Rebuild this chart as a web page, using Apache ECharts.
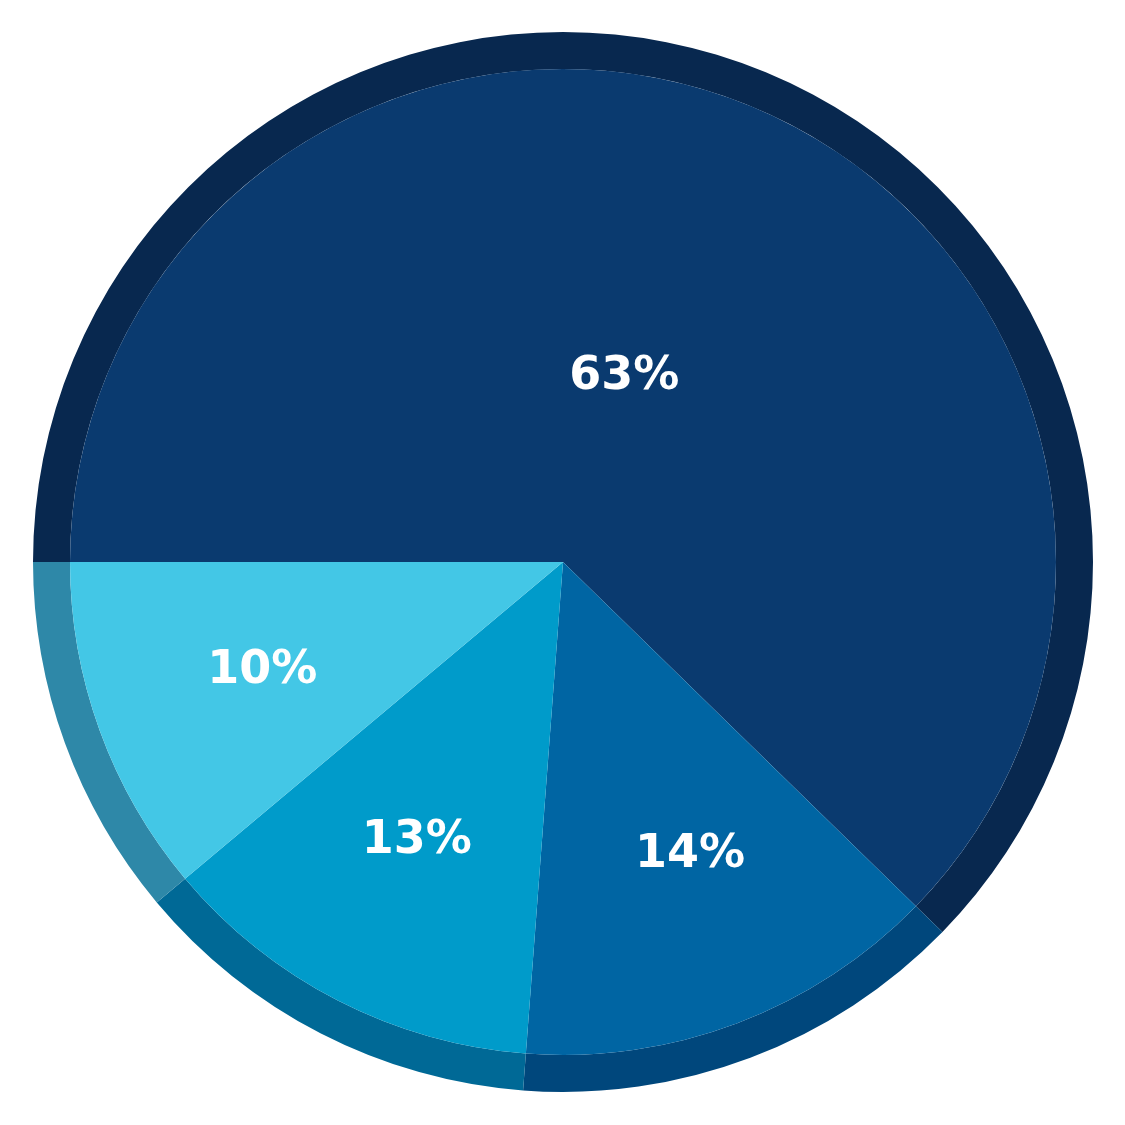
<!DOCTYPE html>
<html>
<head>
<meta charset="utf-8">
<script src="https://cdn.jsdelivr.net/npm/echarts@6/dist/echarts.min.js"></script>
<style>
html,body{margin:0;padding:0;background:#fff;}
#chart{width:1125px;height:1125px;}
</style>
</head>
<body>
<div id="chart"></div>
<script>
const categories = ['Slice A', 'Slice B', 'Slice C', 'Slice D'];
const shares = [62.3, 13.9, 12.7, 11.1];
const labels = ['63%', '14%', '13%', '10%'];
const innerColors = ['#0a3a6f', '#0065a3', '#009bca', '#43c7e6'];
const ringColors = ['#08284f', '#00477c', '#006996', '#2e88a8'];
const labelNudges = [[-14, 0], [14, -6], [0, -6], [0, 0]];

const chart = echarts.init(document.getElementById('chart'), null, {renderer: 'canvas'});

function sliceData(colors, withNudge) {
  return categories.map((name, i) => {
    const d = {
      name: name,
      value: shares[i],
      itemStyle: colors ? {color: colors[i]} : {color: 'rgba(0,0,0,0)'}
    };
    if (withNudge) d.label = {offset: labelNudges[i]};
    return d;
  });
}

const labelStyle = {
  show: true,
  position: 'inside',
  color: '#ffffff',
  fontFamily: 'DejaVu Sans',
  fontWeight: 'bold',
  fontSize: 46,
  formatter: p => labels[p.dataIndex]
};

const common = {
  type: 'pie',
  center: [563, 562],
  startAngle: 180,
  clockwise: true,
  avoidLabelOverlap: false,
  labelLine: {show: false},
  emphasis: {disabled: true},
  silent: true,
  animation: false
};

chart.setOption({
  animation: false,
  series: [
    Object.assign({}, common, {
      radius: [493, 530],
      label: {show: false},
      itemStyle: {borderWidth: 0},
      data: sliceData(ringColors, false)
    }),
    Object.assign({}, common, {
      radius: [0, 493],
      label: {show: false},
      itemStyle: {borderWidth: 0},
      data: sliceData(innerColors, false)
    }),
    // label carriers (transparent), big slice label nearer the centre
    Object.assign({}, common, {
      radius: [0, 394],
      label: Object.assign({}, labelStyle, {
        formatter: p => p.dataIndex === 0 ? labels[0] : ''
      }),
      data: sliceData(null, true)
    }),
    Object.assign({}, common, {
      radius: [140, 494],
      label: Object.assign({}, labelStyle, {
        formatter: p => p.dataIndex === 0 ? '' : labels[p.dataIndex]
      }),
      data: sliceData(null, true)
    })
  ]
});
</script>
</body>
</html>
